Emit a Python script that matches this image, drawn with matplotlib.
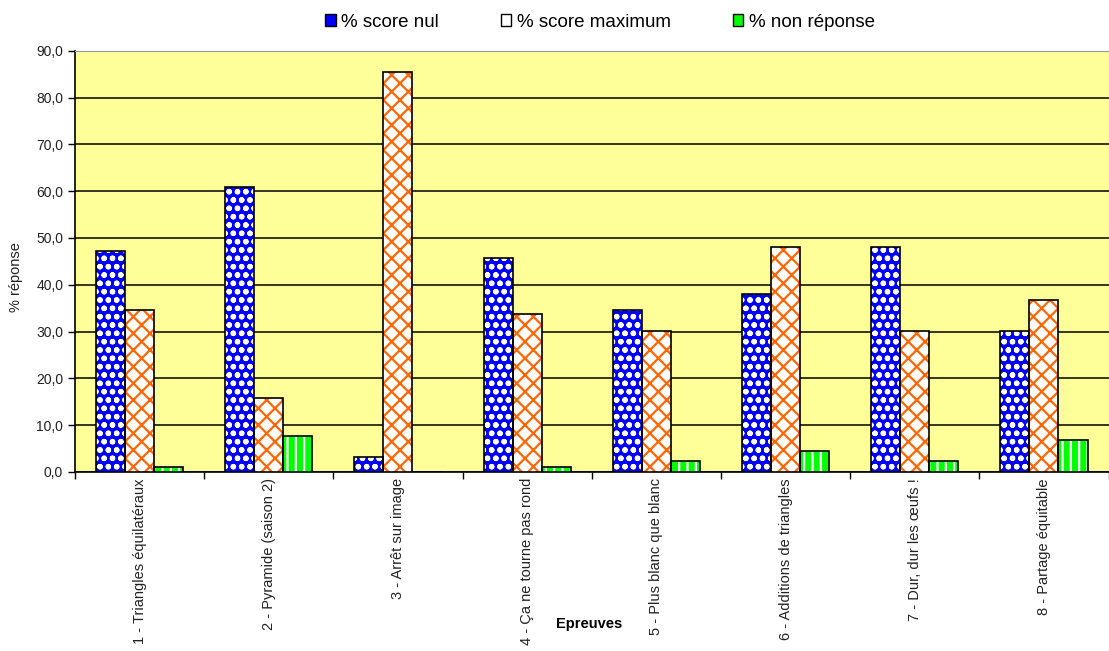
import numpy as np
import matplotlib.pyplot as plt
from matplotlib.patches import Patch

plt.rcParams['font.family'] = ['Liberation Sans', 'DejaVu Sans']
plt.rcParams['hatch.linewidth'] = 1.6

# ---------- data ----------
epreuves = [
    "1 - Triangles équilatéraux",
    "2 - Pyramide (saison 2)",
    "3 - Arrêt sur image",
    "4 - Ça ne tourne pas rond",
    "5 - Plus blanc que blanc",
    "6 - Additions de triangles",
    "7 - Dur, dur les œufs !",
    "8 - Partage équitable",
]
score_nul = [47.2, 60.9, 3.2, 45.7, 34.6, 38.0, 48.1, 30.1]
score_max = [34.6, 15.8, 85.5, 33.8, 30.1, 48.1, 30.1, 36.8]
non_reponse = [1.0, 7.7, 0.0, 1.0, 2.3, 4.5, 2.3, 6.8]
series_names = ["% score nul", "% score maximum", "% non réponse"]

fig = plt.figure(figsize=(11.09, 6.51), dpi=100)
ax = fig.add_axes([0.0676, 0.275, 0.932, 0.647])
ax.set_facecolor('#FFFF99')

x = np.arange(len(epreuves))
w = 0.225

# bars: hatch drawn in edgecolor, black outline drawn on top
ax.bar(x - w, score_nul, w, color='#0000FF', edgecolor='white', hatch='oo', lw=0, zorder=3)
ax.bar(x, score_max, w, color='white', edgecolor='#FF6600', hatch='xx', lw=0, zorder=3)
ax.bar(x + w, non_reponse, w, color='#00FF00', edgecolor='white', hatch='||', lw=0, zorder=3)
for off, vals in [(-w, score_nul), (0, score_max), (w, non_reponse)]:
    ax.bar(x + off, vals, w, fill=False, edgecolor='black', lw=1.2, zorder=4)

ax.set_xlim(-0.5, len(epreuves) - 0.5)
ax.set_ylim(0, 90)
ax.set_yticks(np.arange(0, 91, 10))
ax.set_yticklabels([f"{v:.1f}".replace('.', ',') for v in np.arange(0, 91, 10)],
                   fontsize=10, color='#222222')
ax.yaxis.grid(True, color='black', lw=1.1, zorder=1)
ax.set_axisbelow(True)

ax.set_xticks(np.arange(-0.5, len(epreuves), 1.0))
ax.set_xticklabels([])
ax.tick_params(axis='both', direction='out', length=5, width=1, color='black')

for s in ['top', 'right']:
    ax.spines[s].set_color('#999999')
ax.spines['left'].set_linewidth(1.2)
ax.spines['bottom'].set_linewidth(1.2)

for xi, lab in zip(x, epreuves):
    ax.text(xi, -1.3, lab, rotation=90, ha='center', va='top', fontsize=10.5, color='#222222')

ax.text(0.497, -0.36, "Epreuves", transform=ax.transAxes, fontsize=10.5, fontweight='bold',
        ha='center', va='center')
fig.text(0.014, 0.575, "% réponse", rotation=90, fontsize=10.5, ha='center', va='center', color='#222222')

handles = [
    Patch(facecolor='#0000FF', edgecolor='black', lw=1),
    Patch(facecolor='white', edgecolor='black', lw=1),
    Patch(facecolor='#00FF00', edgecolor='black', lw=1),
]
fig.legend(handles, series_names, loc='upper center', bbox_to_anchor=(0.541, 1.005), ncol=3,
           frameon=False, fontsize=13.5, handlelength=0.55, handleheight=0.55,
           handletextpad=0.3, columnspacing=3.3)

fig.savefig("out.png", dpi=100)
